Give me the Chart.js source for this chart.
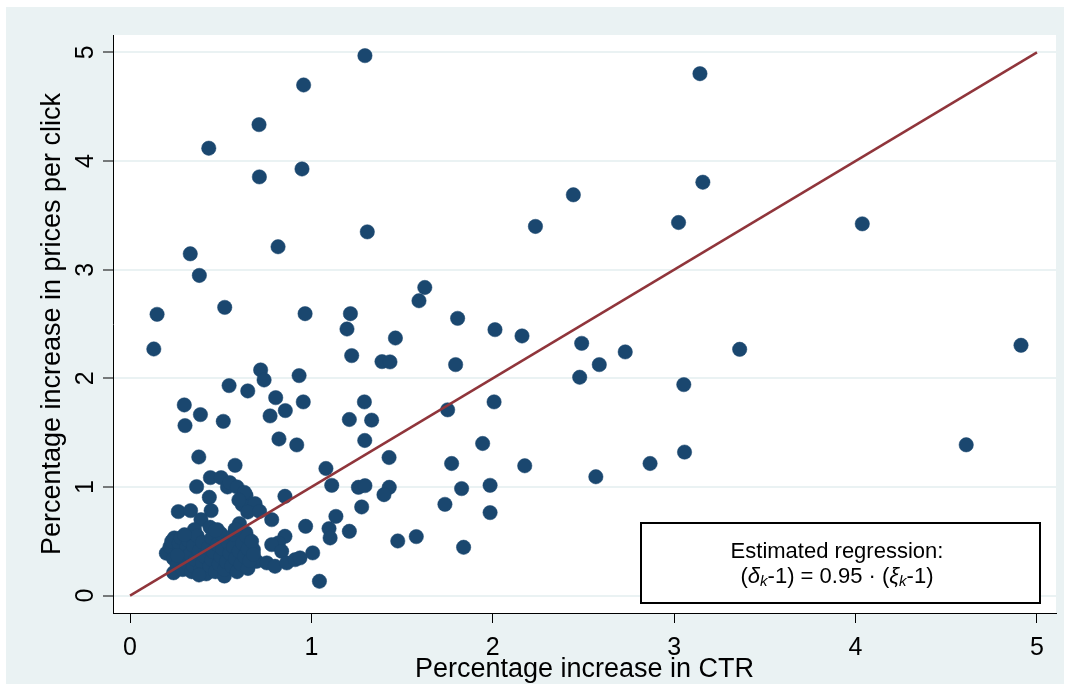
<!DOCTYPE html>
<html><head><meta charset="utf-8">
<script src="https://cdn.jsdelivr.net/npm/chart.js@4.4.1/dist/chart.umd.min.js"></script>
<style>html,body{margin:0;padding:0;background:#fff;}canvas{display:block;}</style>
</head><body>
<canvas id="c" width="1070" height="691"></canvas>
<script>
// ---- data ----
const ctrIncrease = [
1.295,0.957,0.711,0.434,0.713,0.948,1.308,0.816,0.332,0.382,1.625,2.235,3.142,3.158,2.444,3.024,4.037,2.161,2.490,2.730,
2.587,2.479,3.361,4.912,3.053,4.610,2.176,2.568,2.867,3.057,0.965,1.215,1.593,1.196,1.806,2.012,1.463,1.222,1.389,1.433,
1.795,0.955,1.292,1.209,1.332,1.751,2.007,1.294,1.944,1.428,1.080,1.773,0.149,0.522,0.131,0.720,0.739,0.932,0.546,0.649,
0.803,0.856,0.772,0.299,0.388,0.303,0.514,0.821,0.919,0.379,0.579,0.443,0.502,0.367,0.537,0.437,0.639,0.619,0.689,0.266,
0.334,0.447,0.649,0.714,0.391,0.441,0.603,0.639,0.355,0.481,0.244,0.538,0.606,0.550,0.590,0.630,0.600,1.112,1.259,1.295,
0.854,1.277,0.781,0.968,1.135,1.097,1.209,1.103,0.854,0.818,0.781,0.680,0.836,1.007,0.698,0.754,0.799,0.864,0.910,0.937,
1.044,1.429,1.400,1.828,1.985,1.736,1.985,1.476,1.578,1.839,
0.20,0.22,0.23,0.24,0.24,0.26,0.27,0.27,0.28,0.29,0.29,0.31,0.31,0.32,0.33,0.34,0.35,0.35,0.36,0.37,
0.38,0.39,0.40,0.40,0.41,0.42,0.43,0.44,0.45,0.45,0.46,0.47,0.48,0.49,0.50,0.50,0.51,0.52,0.52,0.53,
0.54,0.55,0.56,0.57,0.57,0.58,0.59,0.60,0.61,0.62,0.63,0.64,0.65,0.65,0.66,0.67,0.68,0.30,0.47,0.58,
0.38,0.26
];
const priceIncrease = [
4.970,4.700,4.335,4.118,3.854,3.927,3.348,3.211,3.146,2.947,2.836,3.398,4.804,3.805,3.689,3.434,3.422,2.390,2.322,2.243,
2.126,2.010,2.267,2.304,1.942,1.388,1.195,1.094,1.216,1.321,2.595,2.595,2.714,2.454,2.552,2.448,2.371,2.209,2.154,2.151,
2.126,1.783,1.783,1.621,1.615,1.710,1.783,1.428,1.400,1.271,1.170,1.216,2.589,2.653,2.270,2.077,1.985,2.025,1.933,1.884,
1.822,1.703,1.654,1.755,1.666,1.565,1.604,1.442,1.387,1.276,1.199,1.086,1.086,1.003,1.000,0.905,0.923,0.837,0.847,0.773,
0.782,0.782,0.770,0.776,0.699,0.629,0.663,0.577,0.607,0.607,0.531,0.522,0.531,1.040,1.000,0.950,0.880,1.015,0.997,1.012,
0.914,0.816,0.699,0.638,0.729,0.617,0.592,0.531,0.546,0.485,0.469,0.423,0.408,0.393,0.316,0.301,0.270,0.301,0.331,0.347,
0.132,0.997,0.929,0.985,1.015,0.840,0.764,0.503,0.543,0.445,
0.39,0.45,0.50,0.34,0.21,0.28,0.41,0.48,0.53,0.24,0.35,0.44,0.30,0.51,0.38,0.22,0.27,0.46,0.33,0.55,
0.41,0.24,0.30,0.49,0.36,0.20,0.44,0.27,0.53,0.33,0.40,0.22,0.47,0.29,0.36,0.57,0.43,0.18,0.24,0.31,
0.49,0.39,0.27,0.45,0.56,0.34,0.22,0.41,0.29,0.48,0.36,0.55,0.25,0.43,0.32,0.50,0.38,0.56,0.60,0.61,
0.19,0.37
];
const fitX = [0, 5];
const fitY = [0, 5];
const xTicks = [0, 1, 2, 3, 4, 5];
const yTicks = [0, 1, 2, 3, 4, 5];
const xTitle = 'Percentage increase in CTR';
const yTitle = 'Percentage increase in prices per click';
const noteLine1 = 'Estimated regression:';
const noteLine2 = [
  {t: '(', s: 'n'}, {t: 'δ', s: 'i'}, {t: 'k', s: 'sub'}, {t: '-1) = 0.95 · (', s: 'n'},
  {t: 'ξ', s: 'i'}, {t: 'k', s: 'sub'}, {t: '-1)', s: 'n'}
];

// ---- styling ----
const FONT = '"Liberation Sans", Arial, Helvetica, sans-serif';
const NAVY = '#1a476f';
const MAROON = '#90353b';
const BGBLUE = '#eaf2f3';

const backgroundPlugin = {
  id: 'bgPanels',
  beforeDraw(chart) {
    const {ctx, chartArea: a, width, height} = chart;
    ctx.save();
    ctx.fillStyle = '#ffffff';
    ctx.fillRect(0, 0, width, height);
    ctx.fillStyle = BGBLUE;
    ctx.fillRect(6, 7, width - 12, height - 14);
    ctx.fillStyle = '#ffffff';
    ctx.fillRect(a.left, a.top, a.right - a.left, a.bottom - a.top);
    ctx.restore();
  }
};

const notePlugin = {
  id: 'noteBox',
  afterDraw(chart) {
    const {ctx, chartArea: a} = chart;
    const bx = 641, by = 523, bw = (a.right - 16) - bx, bh = 80;
    ctx.save();
    ctx.fillStyle = '#ffffff';
    ctx.fillRect(bx, by, bw, bh);
    ctx.lineWidth = 2;
    ctx.strokeStyle = '#000000';
    ctx.strokeRect(bx, by, bw, bh);
    const cx = 837;
    ctx.fillStyle = '#000000';
    ctx.textBaseline = 'middle';
    ctx.textAlign = 'center';
    ctx.font = '22px ' + FONT;
    ctx.fillText(noteLine1, cx, 552);
    const fonts = {n: '22px ' + FONT, i: 'italic 22px ' + FONT, sub: 'italic 15px ' + FONT};
    let total = 0;
    noteLine2.forEach(p => { ctx.font = fonts[p.s]; p.w = ctx.measureText(p.t).width; total += p.w; });
    let x = cx - total / 2;
    ctx.textAlign = 'left';
    noteLine2.forEach(p => {
      ctx.font = fonts[p.s];
      ctx.fillText(p.t, x, 577 + (p.s === 'sub' ? 5 : 0));
      x += p.w;
    });
    ctx.restore();
  }
};

const points = ctrIncrease.map((v, i) => ({x: v, y: priceIncrease[i]}));
const fitLine = fitX.map((v, i) => ({x: v, y: fitY[i]}));

new Chart(document.getElementById('c'), {
  type: 'scatter',
  data: {
    datasets: [
      {
        type: 'line', data: fitLine, borderColor: MAROON, borderWidth: 2.5,
        pointRadius: 0, fill: false, order: 0, tension: 0
      },
      {
        data: points, backgroundColor: NAVY, borderColor: NAVY, borderWidth: 0.5,
        pointRadius: 7.2, pointHoverRadius: 7.2, order: 1
      }
    ]
  },
  options: {
    responsive: false,
    animation: false,
    devicePixelRatio: 1,
    layout: {padding: {left: 0, top: 35, right: 14, bottom: 0}},
    plugins: {legend: {display: false}, tooltip: {enabled: false}},
    scales: {
      x: {
        type: 'linear', min: -0.094, max: 5.105,
        afterBuildTicks: s => { s.ticks = xTicks.map(v => ({value: v})); },
        afterFit: s => { s.height = 78; },
        grid: {drawOnChartArea: false, drawTicks: true, tickLength: 10, tickColor: '#000', tickWidth: 1},
        border: {display: true, color: '#000', width: 1},
        ticks: {color: '#000', font: {family: FONT, size: 25}, padding: 10, maxRotation: 0, autoSkip: false},
        title: {display: true, text: xTitle, color: '#000', font: {family: FONT, size: 27}, padding: {top: 0, bottom: 5}}
      },
      y: {
        type: 'linear', min: -0.16, max: 5.16,
        afterBuildTicks: s => { s.ticks = yTicks.map(v => ({value: v})); },
        afterFit: s => { s.width = 113; },
        grid: {color: BGBLUE, lineWidth: 2, drawTicks: true, tickLength: 10, tickColor: '#000', tickWidth: 1},
        border: {display: true, color: '#000', width: 1},
        ticks: {color: '#000', font: {family: FONT, size: 25}, padding: 10, minRotation: 90, maxRotation: 90, crossAlign: 'center', autoSkip: false},
        title: {display: true, text: yTitle, color: '#000', font: {family: FONT, size: 27}, padding: {top: 36, bottom: 0}}
      }
    }
  },
  plugins: [backgroundPlugin, notePlugin]
});
</script>
</body></html>
